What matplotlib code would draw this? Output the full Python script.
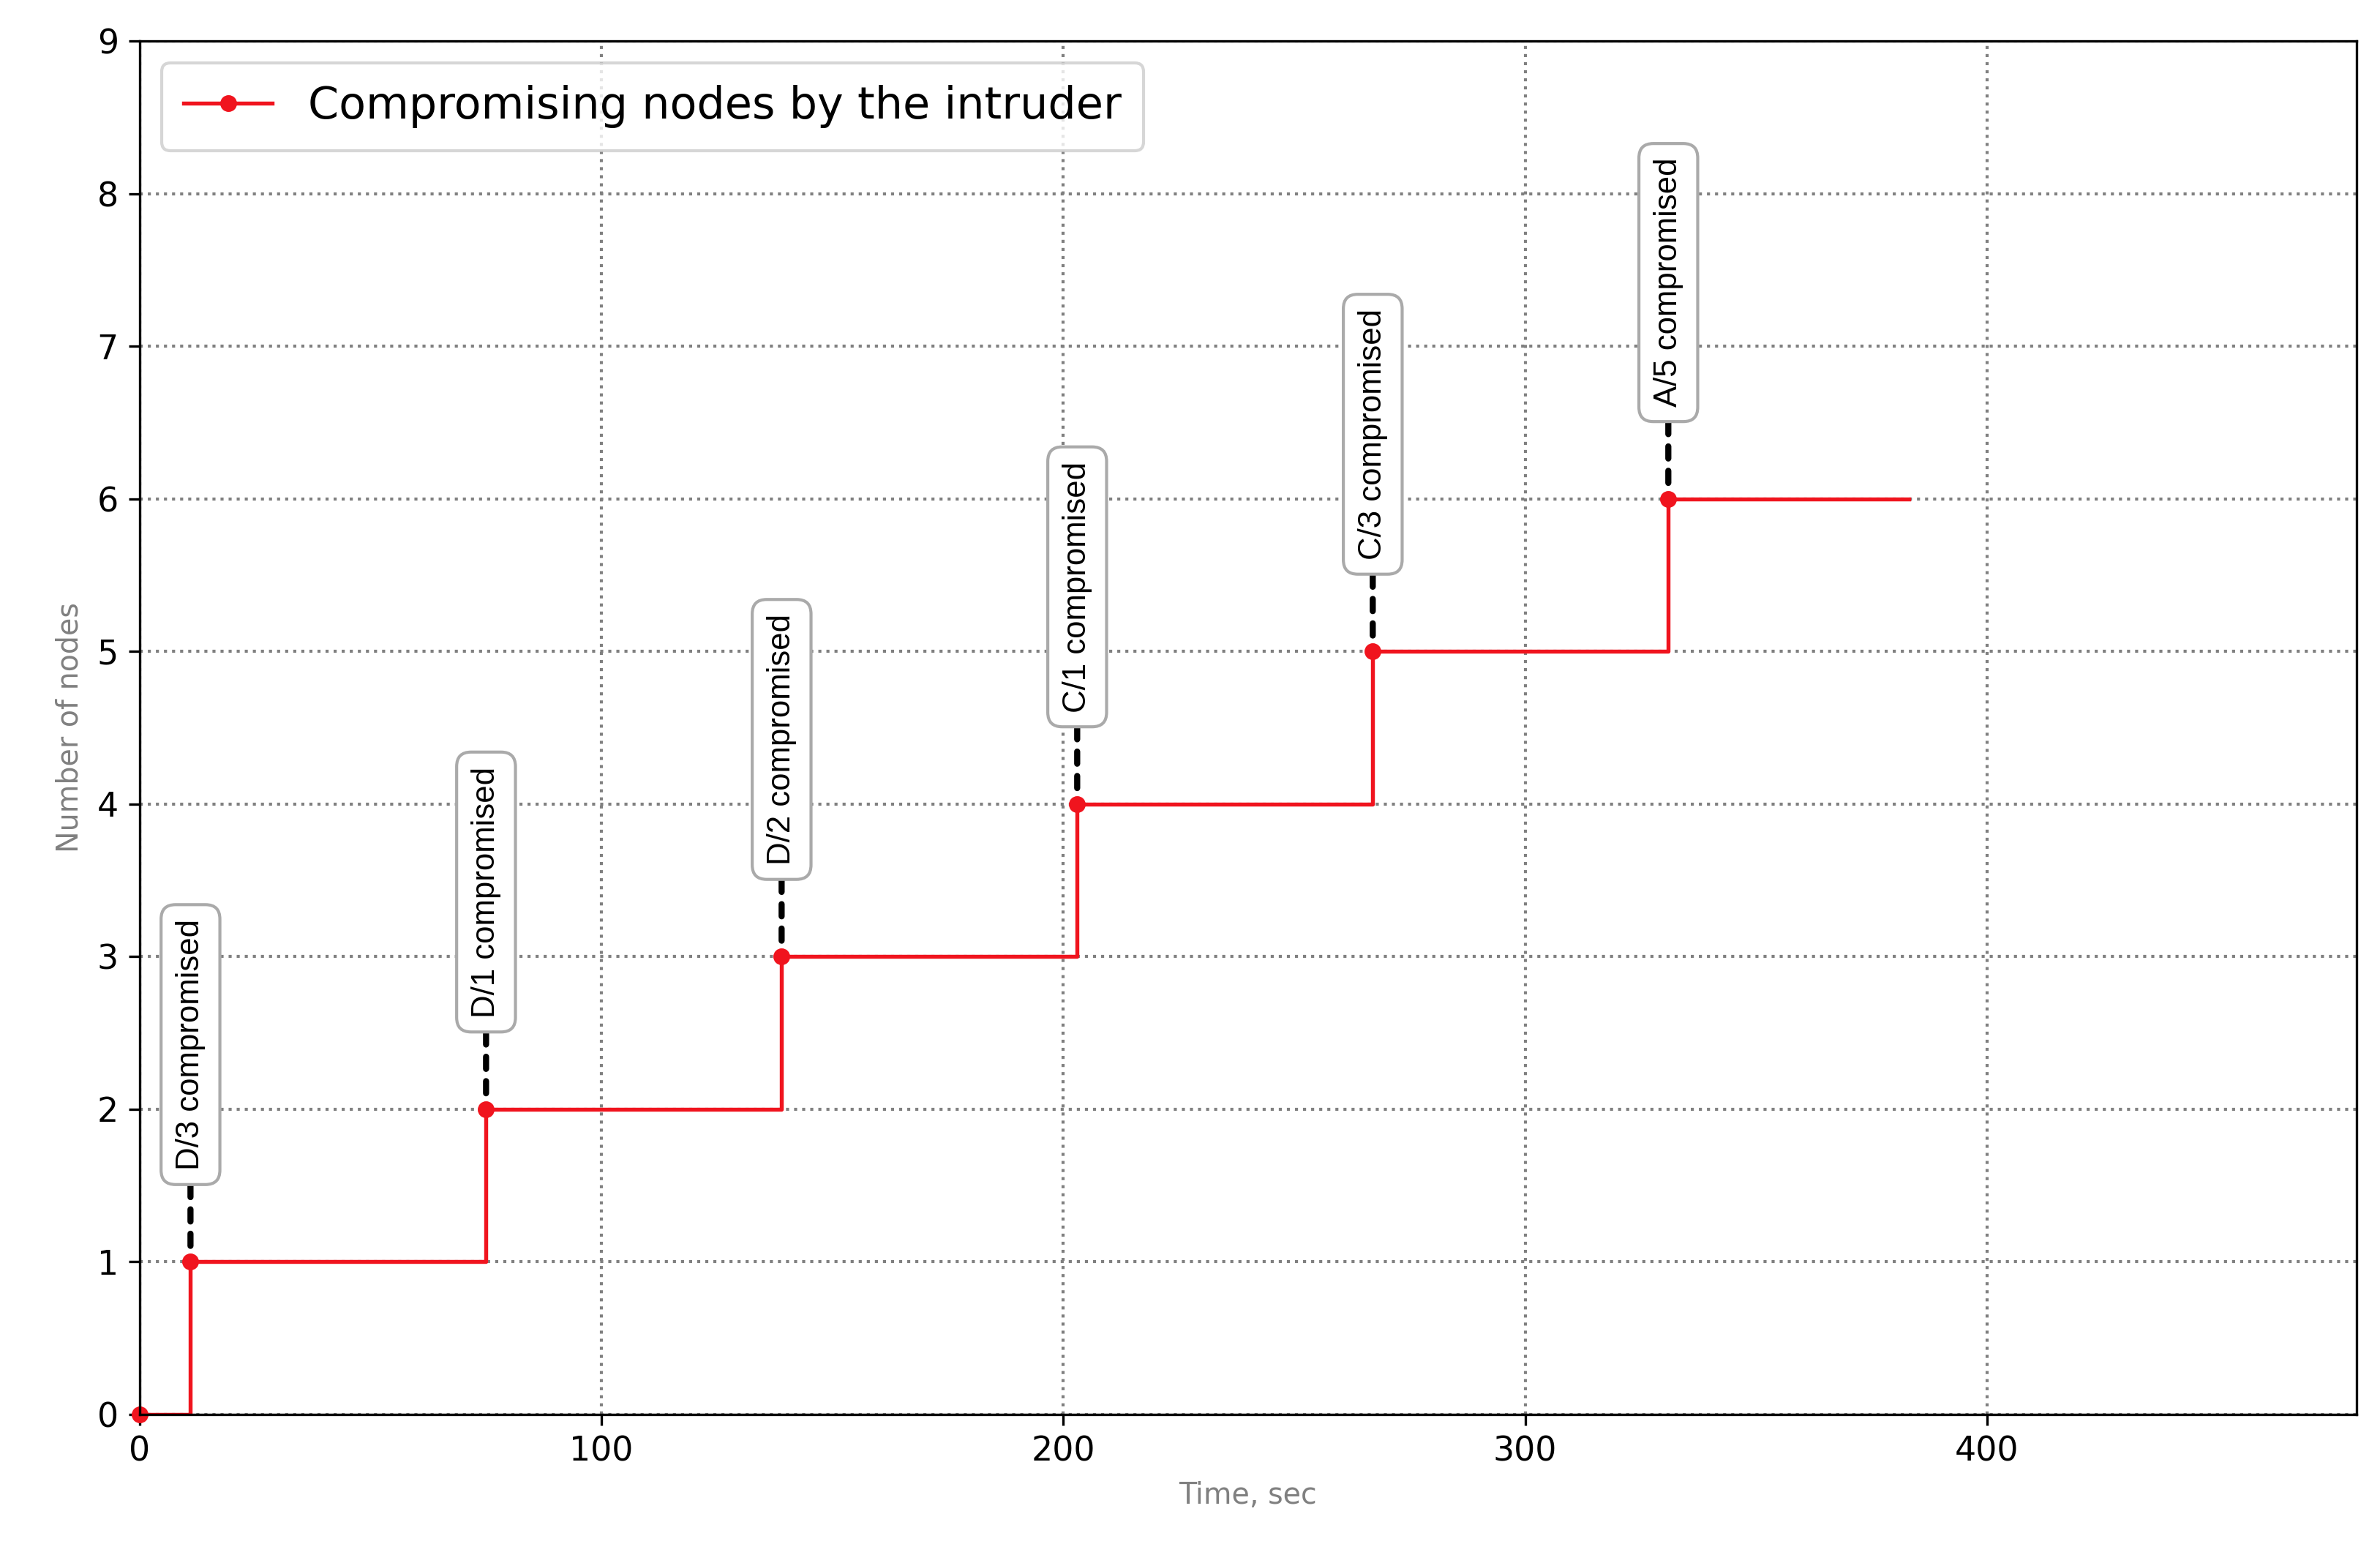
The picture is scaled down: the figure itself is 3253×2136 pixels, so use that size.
import matplotlib
matplotlib.use("Agg")
import matplotlib.pyplot as plt

times = [0, 11, 75, 139, 203, 267, 331, 383]
nodes = [0, 1, 2, 3, 4, 5, 6, 6]
labels = ["D/3 compromised", "D/1 compromised", "D/2 compromised",
          "C/1 compromised", "C/3 compromised", "A/5 compromised"]

fig = plt.figure(figsize=(3254 / 300, 2136 / 300), dpi=300)
ax = fig.add_axes([92 / 1568, 1 - 932 / 1030, 1460 / 1568, 905 / 1030])

ax.step(times, nodes, where="post", color="#f0141e", lw=1.3)
ax.plot(times[:-1], nodes[:-1], "o", color="#f0141e", ms=4.5, clip_on=False)
ax.plot([], [], "-o", color="#f0141e", ms=4.5, lw=1.3,
        label="Compromising nodes by the intruder")

for t, n, lab in zip(times[1:], nodes[1:], labels):
    ax.annotate(lab, xy=(t, n), xytext=(t, n + 0.6), rotation=90,
                ha="center", va="bottom", fontsize=10.5, family="Liberation Sans",
                bbox=dict(boxstyle="round,pad=0.45", fc="white", ec="#aaaaaa"),
                arrowprops=dict(arrowstyle="-", ls=(0, (2, 2)), lw=2, color="black",
                                shrinkA=0, shrinkB=2))

ax.set_xlim(0, 480)
ax.set_ylim(0, 9)
ax.set_xticks([0, 100, 200, 300, 400])
ax.set_yticks(range(10))
ax.tick_params(labelsize=11)
ax.grid(True, ls=":", color="gray", lw=1)
ax.set_xlabel("Time, sec", color="gray", fontsize=9.5)
ax.set_ylabel("Number of nodes", color="gray", fontsize=9.5)
ax.legend(loc="upper left", fontsize=14.5, borderpad=0.5)

fig.savefig("out.png", dpi=300)
